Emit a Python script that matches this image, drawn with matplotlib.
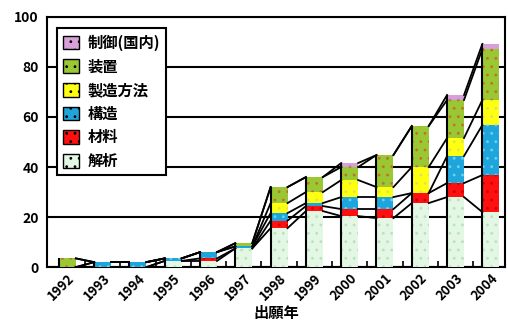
import numpy as np
import matplotlib.pyplot as plt

plt.rcParams['font.family'] = ['Noto Sans CJK JP', 'DejaVu Sans']
plt.rcParams['hatch.linewidth'] = 0.8

# 出願年ごとの件数 (分類別)
years = ['1992', '1993', '1994', '1995', '1996', '1997', '1998',
         '1999', '2000', '2001', '2002', '2003', '2004']
kaiseki = [0, 0, 0, 2.5, 2.5, 7.5, 15.6, 22.4, 20.4, 19.6, 25.6, 28, 22]
zairyo = [0, 0, 0, 0, 1, 0, 3, 2, 2.8, 3.6, 4, 5.6, 14.8]
kozo = [0, 2, 2, 1, 2.5, 0.8, 3, 1.2, 4.8, 4.8, 0, 10.8, 20]
seizo = [0, 0, 0, 0, 0, 0, 4, 4.4, 6.8, 4, 10.4, 7.2, 10]
sochi = [3.5, 0, 0, 0, 0, 1.3, 6.4, 6, 5.2, 12.8, 16.4, 15.2, 20.4]
seigyo = [0, 0, 0, 0, 0, 0, 0, 0, 1.6, 0, 0, 2, 2]

series = [
    ('解析', kaiseki, '#e4f6e4', '#b8e4b8'),
    ('材料', zairyo, '#ff1010', '#cc0000'),
    ('構造', kozo, '#1ea6dc', '#6fd0f0'),
    ('製造方法', seizo, '#ffff10', '#e0e060'),
    ('装置', sochi, '#99c833', '#c07030'),
    ('制御(国内)', seigyo, '#d8a0d8', '#b080b0'),
]

fig = plt.figure(figsize=(5.08, 3.25), dpi=100)
ax = fig.add_axes([0.093, 0.178, 0.901, 0.77])

x = np.arange(len(years))
w = 0.48
bottom = np.zeros(len(years))
tops = []
for name, vals, fc, hc in series:
    vals = np.array(vals, dtype=float)
    ax.bar(x, vals, w, bottom=bottom, color=fc, edgecolor=hc, linewidth=0,
           hatch='..', label=name, zorder=3)
    bottom = bottom + vals
    tops.append(bottom.copy())

# 系列線: 各区分の上端を隣の棒へつなぐ
for lev in tops:
    for i in range(len(years) - 1):
        ax.plot([x[i] + w / 2, x[i + 1] - w / 2], [lev[i], lev[i + 1]],
                color='black', lw=1.3, zorder=4)

# 棒の左端の縦線
ax.vlines(x - w / 2, 0, bottom, color='black', lw=1.5, zorder=4)

ax.set_xlim(-0.57, 12.4)
ax.set_ylim(0, 100)
ax.set_yticks([0, 20, 40, 60, 80, 100])
ax.yaxis.grid(True, color='black', lw=1.5, zorder=0)
ax.set_axisbelow(True)
ax.tick_params(axis='y', length=0, labelsize=10, pad=6)
for t in ax.get_yticklabels():
    t.set_fontweight('bold')

ax.set_xticks(x)
ax.set_xticklabels(years, rotation=45, ha='right', rotation_mode='anchor',
                   fontsize=9.5, fontweight='bold')
ax.set_xticks(x[:-1] + 0.5, minor=True)
ax.tick_params(axis='x', which='major', length=0, pad=3)
ax.tick_params(axis='x', which='minor', direction='in', length=4, width=1.2)
ax.set_xlabel('出願年', fontsize=11, fontweight='bold', labelpad=1)

for s in ax.spines.values():
    s.set_color('black')
    s.set_linewidth(1.5)

h, l = ax.get_legend_handles_labels()
leg = ax.legend(h[::-1], l[::-1], loc='upper left', bbox_to_anchor=(0.005, 0.985),
                prop={'weight': 'bold', 'size': 11}, frameon=True, fancybox=False,
                edgecolor='black', framealpha=1, borderpad=0.4, labelspacing=0.5,
                handlelength=1.0, handleheight=1.0, handletextpad=0.6)
leg.get_frame().set_linewidth(1.5)
leg.set_zorder(6)
for p in leg.get_patches():
    p.set_edgecolor('black')
    p.set_linewidth(1.0)

fig.savefig('out.png', dpi=100)
